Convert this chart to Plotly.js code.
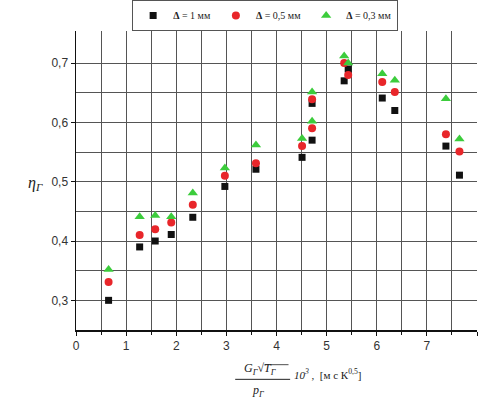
<!DOCTYPE html>
<html><head><meta charset="utf-8">
<script src="https://cdn.plot.ly/plotly-3.0.1.min.js"></script>
<style>html,body{margin:0;padding:0;background:#fff;}#chart{width:480px;height:405px;}</style>
</head><body><div id="chart"></div>
<script>
const xVals = [0.65, 1.27, 1.58, 1.90, 2.33, 2.97, 3.59, 4.51, 4.71, 4.71, 5.35, 5.43, 6.11, 6.36, 7.38, 7.65];
const eta1mm  = [0.300, 0.390, 0.400, 0.411, 0.440, 0.492, 0.521, 0.541, 0.570, 0.632, 0.670, 0.690, 0.641, 0.620, 0.560, 0.511];
const eta05mm = [0.331, 0.410, 0.420, 0.431, 0.461, 0.510, 0.531, 0.560, 0.590, 0.639, 0.700, 0.680, 0.668, 0.651, 0.580, 0.551];
const eta03mm = [0.352, 0.441, 0.443, 0.441, 0.481, 0.523, 0.562, 0.573, 0.602, 0.651, 0.712, 0.700, 0.682, 0.671, 0.640, 0.572];
const seriesNames = ['<b>Δ</b> = 1 мм', '<b>Δ</b> = 0,5 мм', '<b>Δ</b> = 0,3 мм'];
const xTickVals = [0,1,2,3,4,5,6,7,8];
const yTickVals = [0.3,0.4,0.5,0.6,0.7];
const yMinorVals = [0.35,0.45,0.55,0.65];

const traces = [
  {x: xVals, y: eta1mm, name: seriesNames[0], mode: 'markers', type: 'scatter',
   marker: {symbol: 'square', size: 7, color: '#111111'}},
  {x: xVals, y: eta05mm, name: seriesNames[1], mode: 'markers', type: 'scatter',
   marker: {symbol: 'circle', size: 8, color: '#e8262a'}},
  {x: xVals, y: eta03mm, name: seriesNames[2], mode: 'markers', type: 'scatter',
   marker: {symbol: 'triangle-up', size: 9, color: '#3ccc3c'}}
];

const gridC = '#555555';
const layout = {
  width: 480, height: 405,
  margin: {l: 76, r: 3, t: 30, b: 75},
  paper_bgcolor: '#fff', plot_bgcolor: '#fff',
  separators: ',.',
  showlegend: true,
  legend: {orientation: 'h', x: 0.14, y: 1.0, xref: 'paper', yref: 'container', yanchor: 'top', xanchor: 'left',
    borderwidth: 1, bordercolor: '#555', bgcolor: '#fff',
    font: {family: 'Liberation Serif', size: 10, color: '#222'}, itemwidth: 30, tracegroupgap: 0},
  xaxis: {range: [0, 8], tickvals: xTickVals, tickformat: 'd',
    showgrid: true, gridcolor: gridC, gridwidth: 1,
    showline: true, linecolor: '#111', linewidth: 1.5, ticks: 'outside', ticklen: 4, tickcolor: '#111',
    zeroline: false,
    minor: {dtick: 0.5, showgrid: true, gridcolor: gridC, gridwidth: 1, ticks: 'outside', ticklen: 3, tickcolor: '#111'},
    tickfont: {family: 'Liberation Sans', size: 12, color: '#333'}},
  yaxis: {range: [0.25, 0.754], tickvals: yTickVals, tickformat: '.1f',
    showgrid: true, gridcolor: gridC, gridwidth: 1,
    showline: true, linecolor: '#111', linewidth: 1.5, ticks: 'outside', ticklen: 4, tickcolor: '#111',
    zeroline: false,
    minor: {tickvals: yMinorVals, showgrid: true, gridcolor: gridC, gridwidth: 1},
    tickfont: {family: 'Liberation Sans', size: 12, color: '#333'}},
  annotations: [
    {text: '<i>η<sub>Γ</sub></i>', xref: 'paper', yref: 'paper', x: -0.125, y: 0.49, showarrow: false,
     font: {family: 'Liberation Serif', size: 16, color: '#222'}},
    {text: '<i>G<sub>Γ</sub></i>√<i>T<sub>Γ</sub></i>', xref: 'paper', yref: 'paper', x: 0.461, y: -0.164, yanchor: 'bottom', showarrow: false,
     font: {family: 'Liberation Serif', size: 12, color: '#222'}},
    {text: '<i>p<sub>Γ</sub></i>', xref: 'paper', yref: 'paper', x: 0.455, y: -0.17, yanchor: 'top', showarrow: false,
     font: {family: 'Liberation Serif', size: 12, color: '#222'}},
    {text: '<i>10<sup>3</sup></i> ,  [м с К<sup>0,5</sup>]', xref: 'paper', yref: 'paper', x: 0.539, y: -0.178, xanchor: 'left', showarrow: false,
     font: {family: 'Liberation Serif', size: 11, color: '#222'}}
  ],
  shapes: [
    {type: 'line', xref: 'paper', yref: 'paper', x0: 0.397, x1: 0.534, y0: -0.165, y1: -0.165, line: {color: '#222', width: 1}},
    {type: 'line', xref: 'paper', yref: 'paper', x0: 0.47, x1: 0.53, y0: -0.116, y1: -0.116, line: {color: '#222', width: 0.8}}
  ]
};
Plotly.newPlot('chart', traces, layout, {displayModeBar: false, staticPlot: true});
</script>
</body></html>
